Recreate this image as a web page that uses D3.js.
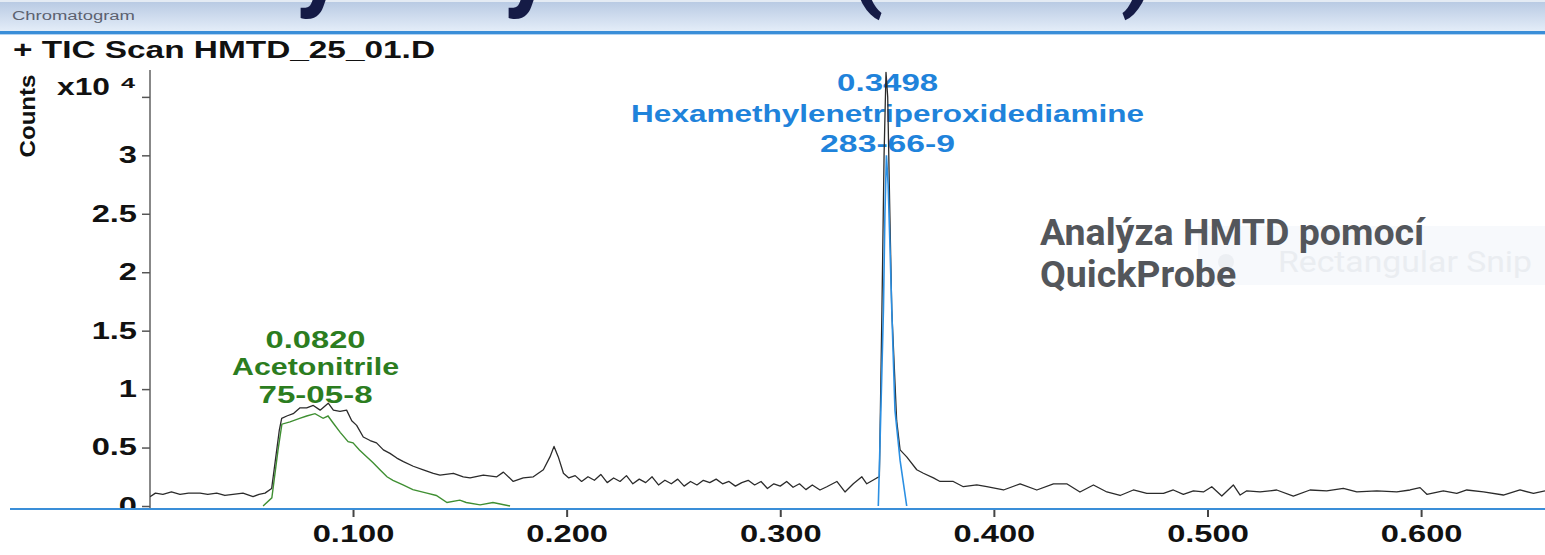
<!DOCTYPE html>
<html>
<head>
<meta charset="utf-8">
<script src="https://cdn.jsdelivr.net/npm/d3@7"></script>
<style>
  html, body { margin: 0; padding: 0; background: #fff; overflow: hidden; }
  svg { display: block; }
</style>
</head>
<body>
<script>
// TIC trace, counts in x10^4, [acquisition time (min), counts]
const ticTrace = [
  [0.0050,0.08],[0.0075,0.11],[0.0110,0.10],[0.0150,0.12],[0.0190,0.10],[0.0230,0.11],[0.0284,0.11],
  [0.0320,0.10],[0.0362,0.11],[0.0400,0.09],[0.0438,0.10],[0.0485,0.11],[0.0532,0.08],[0.0560,0.10],
  [0.0588,0.11],[0.0619,0.15],[0.0637,0.40],[0.0655,0.65],[0.0666,0.75],[0.0690,0.77],[0.0720,0.79],
  [0.0752,0.84],[0.0783,0.84],[0.0814,0.86],[0.0846,0.82],[0.0884,0.88],[0.0908,0.82],[0.0939,0.81],
  [0.0970,0.82],[0.0994,0.73],[0.1017,0.69],[0.1048,0.59],[0.1080,0.56],[0.1110,0.54],[0.1142,0.48],
  [0.1173,0.45],[0.1205,0.41],[0.1236,0.38],[0.1282,0.34],[0.1329,0.31],[0.1376,0.28],[0.1407,0.265],
  [0.1470,0.28],[0.1516,0.25],[0.1548,0.24],[0.1610,0.265],[0.1673,0.25],[0.1704,0.29],[0.1750,0.21],
  [0.1797,0.24],[0.1844,0.25],[0.1891,0.31],[0.1922,0.42],[0.1941,0.51],[0.1961,0.42],[0.1985,0.28],
  [0.2010,0.24],[0.2040,0.26],[0.2070,0.21],[0.2100,0.25],[0.2130,0.22],[0.2160,0.27],[0.2190,0.20],
  [0.2220,0.24],[0.2250,0.21],[0.2280,0.26],[0.2310,0.19],[0.2340,0.23],[0.2370,0.20],[0.2400,0.25],
  [0.2430,0.18],[0.2460,0.22],[0.2490,0.19],[0.2520,0.23],[0.2550,0.17],[0.2580,0.21],[0.2610,0.18],
  [0.2640,0.22],[0.2670,0.20],[0.2700,0.23],[0.2730,0.19],[0.2760,0.21],[0.2790,0.17],[0.2820,0.20],
  [0.2850,0.22],[0.2880,0.18],[0.2910,0.21],[0.2940,0.15],[0.2970,0.19],[0.3000,0.17],[0.3030,0.21],
  [0.3060,0.16],[0.3090,0.19],[0.3120,0.14],[0.3150,0.18],[0.3186,0.137],[0.3218,0.165],[0.3265,0.21],
  [0.3303,0.12],[0.3342,0.19],[0.3382,0.25],[0.3405,0.19],[0.3452,0.24],[0.3464,0.25],[0.3476,1.68],
  [0.3486,3.00],[0.3495,3.71],[0.3503,3.50],[0.3512,2.60],[0.3522,1.68],[0.3545,0.73],[0.3561,0.48],
  [0.3592,0.42],[0.3639,0.31],[0.3670,0.28],[0.3717,0.24],[0.3748,0.21],[0.3810,0.21],[0.3857,0.165],
  [0.3920,0.18],[0.3967,0.165],[0.4045,0.137],[0.4123,0.19],[0.4201,0.137],[0.4279,0.19],[0.4341,0.19],
  [0.4403,0.12],[0.4466,0.18],[0.4529,0.12],[0.4591,0.09],[0.4653,0.137],[0.4716,0.108],[0.4794,0.108],
  [0.4840,0.137],[0.4887,0.10],[0.4934,0.13],[0.4981,0.12],[0.5020,0.165],[0.5067,0.085],[0.5121,0.18],
  [0.5153,0.094],[0.5184,0.13],[0.5246,0.12],[0.5324,0.137],[0.5402,0.085],[0.5480,0.137],[0.5558,0.13],
  [0.5636,0.15],[0.5699,0.12],[0.5793,0.13],[0.5886,0.12],[0.5948,0.137],[0.5995,0.157],[0.6027,0.10],
  [0.6104,0.13],[0.6167,0.108],[0.6214,0.137],[0.6292,0.12],[0.6385,0.094],[0.6463,0.137],[0.6526,0.108],
  [0.6580,0.13]
];

// extracted compound traces
const acetonitrileTrace = [
  [0.0579,0.00],[0.0620,0.07],[0.0649,0.48],[0.0667,0.70],[0.0705,0.72],[0.0750,0.75],[0.0783,0.77],
  [0.0822,0.79],[0.0860,0.75],[0.0883,0.77],[0.0907,0.71],[0.0940,0.63],[0.0977,0.55],[0.1000,0.54],
  [0.1030,0.48],[0.1065,0.42],[0.1094,0.37],[0.1126,0.31],[0.1159,0.25],[0.1187,0.22],[0.1234,0.18],
  [0.1280,0.14],[0.1346,0.11],[0.1390,0.09],[0.1440,0.03],[0.1500,0.05],[0.1530,0.03],[0.1595,0.01],
  [0.1655,0.03],[0.1735,0.00]
];

const hmtdTrace = [
  [0.3459,0.00],[0.3467,0.54],[0.3475,1.10],[0.3483,1.68],[0.3490,2.50],[0.3497,3.00],[0.3505,2.75],
  [0.3514,2.20],[0.3522,1.68],[0.3537,0.82],[0.3561,0.39],[0.3592,0.00]
];

const xTicks = [0.1, 0.2, 0.3, 0.4, 0.5, 0.6];
const yTicks = [0, 0.5, 1, 1.5, 2, 2.5, 3, 3.5];
const yLabelled = [0, 0.5, 1, 1.5, 2, 2.5, 3];

const peakNames = ["Acetonitrile", "Hexamethylenetriperoxidediamine"];
const peakTimes = [0.0820, 0.3498];
const peakCas = ["75-05-8", "283-66-9"];

const W = 1545, H = 555;
const STRETCH = 1.42; // the screenshot is stretched horizontally
const MH_FONT = "'Liberation Sans', Arial, sans-serif";

const svg = d3.select("body").append("svg")
  .attr("width", W)
  .attr("height", H);

const defs = svg.append("defs");
const grad = defs.append("linearGradient").attr("id", "hdr").attr("x1", 0).attr("x2", 0).attr("y1", 0).attr("y2", 1);
grad.append("stop").attr("offset", "0%").attr("stop-color", "#b6c8e2");
grad.append("stop").attr("offset", "100%").attr("stop-color", "#e5eef9");

defs.append("clipPath").attr("id", "plot")
  .append("rect").attr("x", 150).attr("y", 0).attr("width", W - 150).attr("height", 509);
// y labels are cut by the bottom border (coordinates of the axis group)
defs.append("clipPath").attr("id", "yclip")
  .append("rect").attr("x", -160).attr("y", 0).attr("width", 170).attr("height", 508);

// header bar
svg.append("rect").attr("x", 0).attr("y", 0).attr("width", W).attr("height", 32).attr("fill", "url(#hdr)");
svg.append("rect").attr("x", 0).attr("y", 0).attr("width", W).attr("height", 2).attr("fill", "#e4ebf4");
svg.append("rect").attr("x", 0).attr("y", 31).attr("width", W).attr("height", 3).attr("fill", "#3a8ed8");
svg.append("rect").attr("x", 0).attr("y", 34).attr("width", W).attr("height", 1).attr("fill", "#b3d3f1");

function fitText(g, str, x, y, size, width, color, anchor, weight, family) {
  return g.append("text")
    .attr("x", x).attr("y", y)
    .attr("font-family", family || MH_FONT)
    .attr("font-size", size)
    .attr("font-weight", weight || "bold")
    .attr("fill", color)
    .attr("text-anchor", anchor || "start")
    .attr("textLength", width)
    .attr("lengthAdjust", "spacingAndGlyphs")
    .text(str);
}

fitText(svg, "Chromatogram", 12, 20, 12.5, 123, "#5c6270", "start", "normal");

// bits of the slide title that hang into the header
const slideTitle = svg.append("g")
  .attr("font-family", "Roboto, sans-serif")
  .attr("font-weight", "bold")
  .attr("font-size", 100)
  .attr("fill", "#151b46")
  .attr("text-anchor", "middle");
[["y", 320], ["y", 528], ["(", 866], [")", 1138]].forEach(([c, x]) => {
  slideTitle.append("text").attr("x", x).attr("y", -2).text(c);
});

fitText(svg, "+ TIC Scan HMTD_25_01.D", 13, 58, 23, 422, "#111");

// scales
const x = d3.scaleLinear().domain([0.00496, 0.658]).range([150, W]);
const y = d3.scaleLinear().domain([0, 3.73]).range([506, 70]);

// y axis
svg.append("line").attr("x1", 150).attr("x2", 150).attr("y1", 70).attr("y2", 509)
  .attr("stroke", "#888").attr("stroke-width", 2);

const yAxis = svg.append("g")
  .attr("transform", "translate(150,0)")
  .attr("clip-path", "url(#yclip)")
  .call(d3.axisLeft(y).tickValues(yTicks).tickSize(8).tickSizeOuter(0)
    .tickFormat(d => yLabelled.includes(d) ? d3.format("")(d) : ""));
yAxis.select(".domain").remove();
yAxis.selectAll(".tick line").attr("stroke", "#555").attr("stroke-width", 1.5);
yAxis.selectAll(".tick text")
  .attr("font-family", MH_FONT)
  .attr("font-weight", "bold")
  .attr("font-size", 23)
  .attr("fill", "#111")
  .attr("x", -13 / STRETCH)
  .attr("transform", `scale(${STRETCH},1)`);

fitText(svg, "x10", 110, 95, 23, 53, "#111", "end");
fitText(svg, "4", 121, 88, 15, 14, "#111");

svg.append("text")
  .attr("transform", "translate(35,116) rotate(-90)")
  .attr("text-anchor", "middle")
  .attr("font-family", MH_FONT)
  .attr("font-weight", "bold")
  .attr("font-size", 22)
  .attr("fill", "#111")
  .attr("textLength", 83)
  .attr("lengthAdjust", "spacingAndGlyphs")
  .text("Counts");

// peak annotations (the traces are drawn over them)
const annColors = ["#2c7d1f", "#1f83db"];
const annRows = [[348, 375, 403], [91, 122, 152]];
const annWidths = [[100, 167, 114], [101, 513, 135]];
peakTimes.forEach((t, i) => {
  const cx = x(t);
  const rows = [d3.format(".4f")(t), peakNames[i], peakCas[i]];
  rows.forEach((s, j) => {
    fitText(svg, s, cx + 1, annRows[i][j], 23, annWidths[i][j], annColors[i], "middle");
  });
});

// traces
const line = d3.line().x(d => x(d[0])).y(d => y(d[1]));
const plot = svg.append("g").attr("clip-path", "url(#plot)");

plot.append("path").datum(acetonitrileTrace)
  .attr("d", line).attr("fill", "none").attr("stroke", "#3f8f32").attr("stroke-width", 1.4);
plot.append("path").datum(ticTrace)
  .attr("d", line).attr("fill", "none").attr("stroke", "#2b2b2b").attr("stroke-width", 1.3)
  .attr("stroke-linejoin", "round");
plot.append("path").datum(hmtdTrace)
  .attr("d", line).attr("fill", "none").attr("stroke", "#2b8fe2").attr("stroke-width", 1.6);

// bottom border + x axis
svg.append("line").attr("x1", 10).attr("x2", W).attr("y1", 509).attr("y2", 509)
  .attr("stroke", "#3a8ed8").attr("stroke-width", 2.2);

const xAxis = svg.append("g")
  .attr("transform", "translate(0,510)")
  .call(d3.axisBottom(x).tickValues(xTicks).tickSize(7).tickSizeOuter(0).tickFormat(d3.format(".3f")));
xAxis.select(".domain").remove();
xAxis.selectAll(".tick line").attr("stroke", "#444").attr("stroke-width", 2);
xAxis.selectAll(".tick text")
  .attr("font-family", MH_FONT)
  .attr("font-weight", "bold")
  .attr("font-size", 23)
  .attr("fill", "#111")
  .attr("y", 32)
  .attr("dy", 0)
  .attr("transform", `scale(${STRETCH},1)`);

// faint snipping tool overlay left in the screenshot
svg.append("rect").attr("x", 1198).attr("y", 226).attr("width", W - 1198).attr("height", 59).attr("fill", "#f7f9fc");
svg.append("circle").attr("cx", 1226).attr("cy", 262).attr("r", 8).attr("fill", "#eceff3");
fitText(svg, "Rectangular Snip", 1278, 272, 29, 254, "#eaedf1", "start", "normal", "Roboto, sans-serif");

// slide caption
const cap = svg.append("g")
  .attr("font-family", "Roboto, sans-serif")
  .attr("font-weight", "bold")
  .attr("font-size", 37.5)
  .attr("fill", "#53565b");
cap.append("text").attr("x", 1040).attr("y", 245).text("Analýza HMTD pomocí");
cap.append("text").attr("x", 1040).attr("y", 287).text("QuickProbe");
</script>
</body>
</html>
